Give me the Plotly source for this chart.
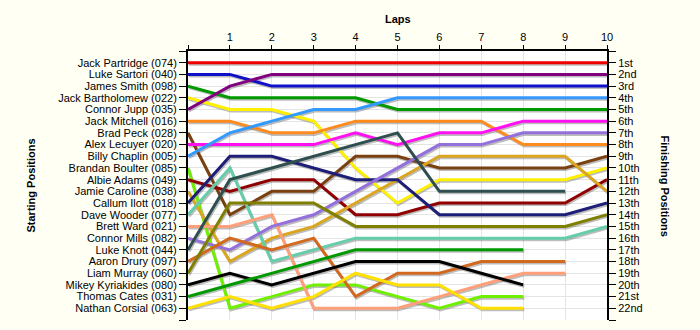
import plotly.graph_objects as go

laps = list(range(0, 11))
drivers = ["Jack Partridge (074)", "Luke Sartori (040)", "James Smith (098)",
           "Jack Bartholomew (022)", "Connor Jupp (035)", "Jack Mitchell (016)",
           "Brad Peck (028)", "Alex Lecuyer (020)", "Billy Chaplin (005)",
           "Brandan Boulter (085)", "Albie Adams (049)", "Jamie Caroline (038)",
           "Callum Ilott (018)", "Dave Wooder (077)", "Brett Ward (021)",
           "Connor Mills (082)", "Luke Knott (044)", "Aaron Drury (097)",
           "Liam Murray (060)", "Mikey Kyriakides (080)", "Thomas Cates (031)",
           "Nathan Corsial (063)"]
finish_labels = ["1st", "2nd", "3rd", "4th", "5th", "6th", "7th", "8th", "9th",
                 "10th", "11th", "12th", "13th", "14th", "15th", "16th", "17th",
                 "18th", "19th", "20th", "21st", "22nd"]

# position per lap (lap 0 = start)
pos_partridge = [1, 1, 1, 1, 1, 1, 1, 1, 1, 1, 1]
pos_sartori = [2, 2, 3, 3, 3, 3, 3, 3, 3, 3, 3]
pos_smith = [3, 4, 4, 4, 4, 5, 5, 5, 5, 5, 5]
pos_bartholomew = [4, 5, 5, 6, 10, 13, 11, 11, 11, 11, 10]
pos_jupp = [5, 3, 2, 2, 2, 2, 2, 2, 2, 2, 2]
pos_mitchell = [6, 6, 7, 7, 6, 6, 6, 6, 8, 8, 8]
pos_peck = [7, 14, 12, 12, 9, 9, 10, 10, 10, 10, 9]
pos_lecuyer = [8, 8, 8, 8, 7, 8, 7, 7, 6, 6, 6]
pos_chaplin = [9, 7, 6, 5, 5, 4, 4, 4, 4, 4, 4]
pos_boulter = [10, 22, 21, 20, 20, 21, 22, 21, 21]
pos_adams = [11, 12, 11, 11, 14, 14, 13, 13, 13, 13, 11]
pos_caroline = [12, 18, 16, 15, 13, 11, 9, 9, 9, 9, 12]
pos_ilott = [13, 9, 9, 10, 11, 11, 14, 14, 14, 14, 13]
pos_wooder = [14, 10, 18, 17, 16, 16, 16, 16, 16, 16, 15]
pos_ward = [15, 15, 14, 22, 22, 22, 21, 20, 19, 19]
pos_mills = [16, 17, 15, 14, 12, 10, 8, 8, 7, 7, 7]
pos_knott = [17, 11, 10, 9, 8, 7, 12, 12, 12, 12]
pos_drury = [18, 16, 17, 16, 21, 19, 19, 18, 18, 18]
pos_murray = [19, 13, 13, 13, 15, 15, 15, 15, 15, 15, 14]
pos_kyriakides = [20, 19, 20, 19, 18, 18, 18, 19, 20]
pos_cates = [21, 20, 19, 18, 17, 17, 17, 17, 17]
pos_corsial = [22, 21, 22, 21, 19, 20, 20, 22, 22]

series = [pos_partridge, pos_sartori, pos_smith, pos_bartholomew, pos_jupp,
          pos_mitchell, pos_peck, pos_lecuyer, pos_chaplin, pos_boulter,
          pos_adams, pos_caroline, pos_ilott, pos_wooder, pos_ward, pos_mills,
          pos_knott, pos_drury, pos_murray, pos_kyriakides, pos_cates, pos_corsial]
colors = ["#EE0000", "#1010C8", "#009A00", "#FFF000", "#800080", "#FF8A1E",
          "#7A4010", "#FF10F0", "#3399FF", "#70F000", "#900000", "#DAA520",
          "#1E1E78", "#66CDAA", "#FFA07A", "#9370DB", "#2F4F4F", "#D2691E",
          "#808000", "#000000", "#009A00", "#FFE000"]

fig = go.Figure()

# drop shadows (same data, shifted slightly)
for ys in series:
    fig.add_trace(go.Scatter(x=[v + 0.025 for v in laps[:len(ys)]],
                             y=[v + 0.13 for v in ys], mode="lines",
                             line=dict(color="rgba(90,90,90,0.4)", width=3),
                             hoverinfo="skip", showlegend=False))

for name, ys, c in zip(drivers, series, colors):
    fig.add_trace(go.Scatter(x=laps[:len(ys)], y=ys, mode="lines", name=name,
                             line=dict(color=c, width=3), showlegend=False))

# invisible trace to anchor the right axis
fig.add_trace(go.Scatter(x=[0], y=[1], yaxis="y2", mode="markers",
                         marker=dict(opacity=0), hoverinfo="skip", showlegend=False))

font = dict(family="Liberation Sans, Arial, sans-serif", size=11, color="#000000")
ticks_all = list(range(0, 24))

fig.update_layout(
    width=700, height=330,
    margin=dict(l=188, r=93, t=51, b=10),
    paper_bgcolor="#FFFFF4", plot_bgcolor="#FFFFFF",
    font=font,
    xaxis=dict(side="top", range=[0, 10], tickvals=laps,
               ticktext=[""] + [str(v) for v in laps[1:]],
               showgrid=True, gridcolor="#E4E4E4", gridwidth=1,
               ticks="outside", ticklen=4, tickcolor="#000000",
               showline=True, linecolor="#000000", linewidth=2,
               zeroline=False, tickfont=font),
    yaxis=dict(range=[23, 0], tickvals=ticks_all,
               ticktext=[""] + drivers + [""],
               showgrid=True, gridcolor="#E4E4E4", gridwidth=1,
               ticks="outside", ticklen=7, tickcolor="#000000",
               showline=True, linecolor="#000000", linewidth=2,
               zeroline=False, tickfont=font),
    yaxis2=dict(range=[23, 0], tickvals=ticks_all,
                ticktext=[""] + finish_labels + [""],
                overlaying="y", side="right", showgrid=False,
                ticks="outside", ticklen=7, tickcolor="#000000",
                showline=True, linecolor="#000000", linewidth=2,
                zeroline=False, tickfont=font),
    annotations=[
        dict(text="<b>Laps</b>", xref="paper", yref="paper", x=0.5, y=1,
             yshift=40, showarrow=False, font=dict(family=font["family"], size=11)),
        dict(text="<b>Starting Positions</b>", xref="paper", yref="paper",
             x=0, xshift=-158, y=0.5, textangle=-90, showarrow=False,
             font=dict(family=font["family"], size=11)),
        dict(text="<b>Finishing Positions</b>", xref="paper", yref="paper",
             x=1, xshift=66, y=0.5, textangle=90, showarrow=False,
             font=dict(family=font["family"], size=11)),
    ],
)
fig.layout.annotations[1].xshift = -166

fig.write_html("out.html")
